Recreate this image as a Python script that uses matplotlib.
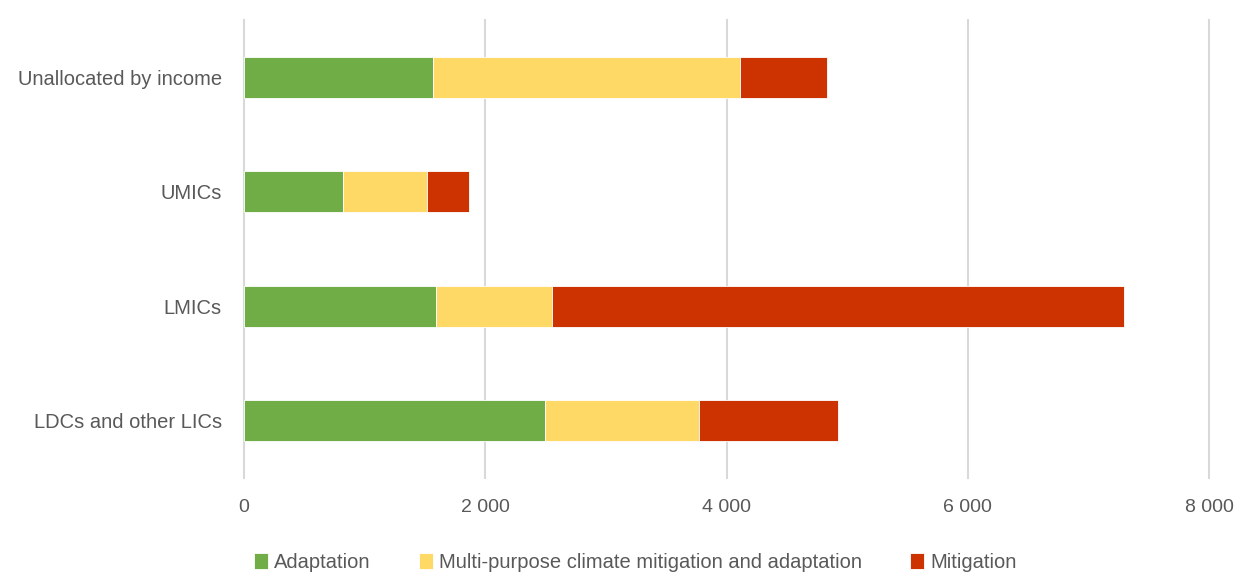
import matplotlib
matplotlib.use("Agg")
import matplotlib.pyplot as plt
from matplotlib.ticker import FuncFormatter

categories = ["LDCs and other LICs", "LMICs", "UMICs", "Unallocated by income"]
adaptation = [2498, 1593, 823, 1564]
multi_purpose = [1273, 961, 691, 2550]
mitigation = [1151, 4737, 348, 716]
series_names = ["Adaptation", "Multi-purpose climate mitigation and adaptation", "Mitigation"]
colors = ["#70AD47", "#FFD966", "#CC3300"]
xticks = [0, 2000, 4000, 6000, 8000]

plt.rcParams['font.family'] = ['Liberation Sans', 'DejaVu Sans']
text_color = "#595959"

fig = plt.figure(figsize=(12.38, 5.75), dpi=100)
ax = fig.add_axes([0.197, 0.169, 0.7797, 0.796])

y = list(range(len(categories)))
left = [0] * len(categories)
for vals, name, col in zip([adaptation, multi_purpose, mitigation], series_names, colors):
    ax.barh(y, vals, left=left, height=0.36, color=col, label=name,
            edgecolor="white", linewidth=0.6, zorder=3)
    left = [l + v for l, v in zip(left, vals)]

ax.set_yticks(y)
ax.set_yticklabels(categories, fontsize=14.5, color=text_color)
ax.set_ylim(-0.5, 3.5)
ax.set_xlim(0, 8000)
ax.set_xticks(xticks)
ax.xaxis.set_major_formatter(FuncFormatter(lambda v, p: f"{int(v):,}".replace(",", " ")))
for lab in ax.get_xticklabels():
    lab.set_fontsize(14)
    lab.set_color(text_color)
ax.tick_params(axis='both', length=0)
ax.tick_params(axis='x', pad=15)
ax.tick_params(axis='y', pad=16)
ax.grid(axis='x', color="#D9D9D9", linewidth=1.5, zorder=0)
for gl in ax.get_xgridlines():
    gl.set_clip_on(False)
for s in ax.spines.values():
    s.set_visible(False)

handles, labels = ax.get_legend_handles_labels()
leg = fig.legend(handles, labels, loc='lower center', bbox_to_anchor=(0.513, -0.026), ncol=3,
                 frameon=False, fontsize=14.5, handlelength=0.7, handleheight=0.9,
                 handletextpad=0.3, columnspacing=2.4)
for t in leg.get_texts():
    t.set_color(text_color)

fig.savefig("out.png", dpi=100)
